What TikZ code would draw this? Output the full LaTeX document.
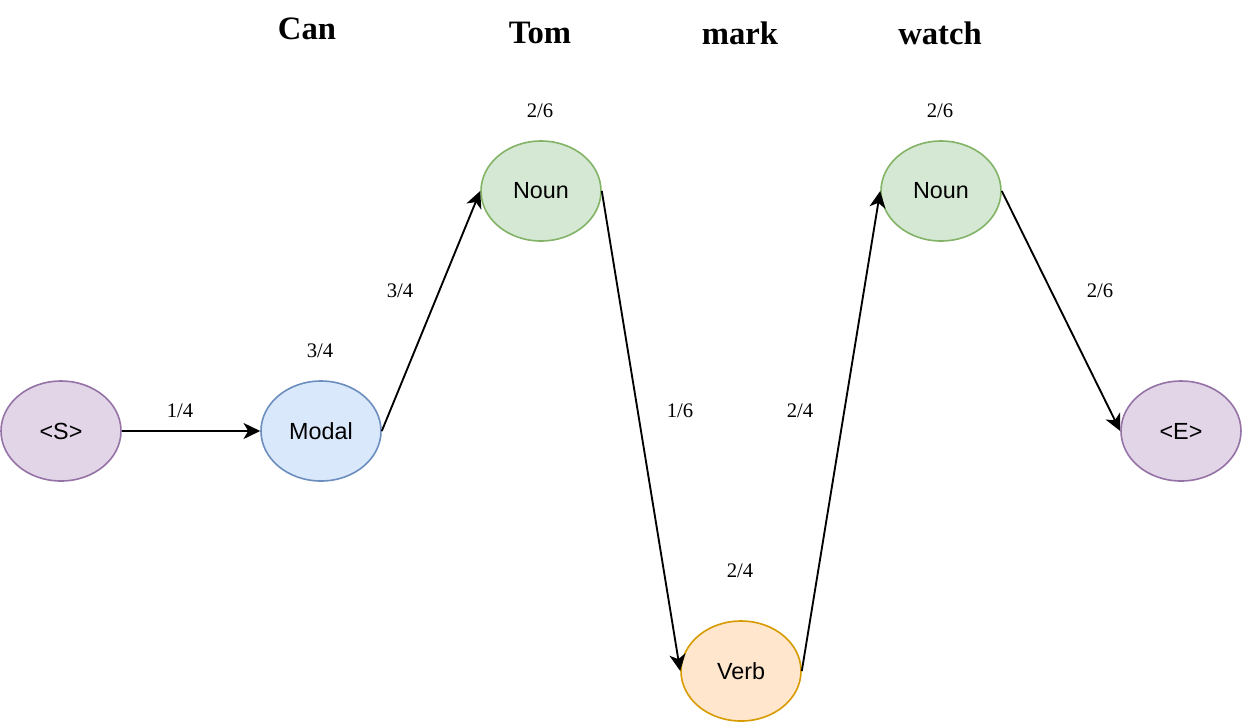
\documentclass[tikz,border=0pt]{standalone}
\usepackage{fontspec}
\setmainfont{Liberation Serif}
\newfontfamily\nodefont{Liberation Sans}
\usetikzlibrary{shapes.geometric,arrows.meta}
\definecolor{sfill}{HTML}{E1D5E7}\definecolor{sdraw}{HTML}{9673A6}
\definecolor{bfill}{HTML}{DAE8FC}\definecolor{bdraw}{HTML}{6C8EBF}
\definecolor{gfill}{HTML}{D5E8D4}\definecolor{gdraw}{HTML}{82B366}
\definecolor{ofill}{HTML}{FFE6CC}\definecolor{odraw}{HTML}{D79B00}
\tikzset{
  tagnode/.style={ellipse, minimum width=90pt, minimum height=75pt, inner sep=0pt, line width=1.2pt, font=\nodefont\fontsize{17.5}{20}\selectfont},
  purplenode/.style={tagnode, fill=sfill, draw=sdraw},
  bluenode/.style={tagnode, fill=bfill, draw=bdraw},
  greennode/.style={tagnode, fill=gfill, draw=gdraw},
  orangenode/.style={tagnode, fill=ofill, draw=odraw},
  problabel/.style={font=\fontsize{15.5}{18}\selectfont, inner sep=0pt},
  wordlabel/.style={font=\bfseries\fontsize{24.5}{28}\selectfont, inner sep=0pt},
  edge/.style={line width=1.4pt, -{Stealth[length=12.5pt, width=12pt, inset=3.5pt]}}
}
\begin{document}
\begin{tikzpicture}[x=0.75pt,y=-0.75pt]
\useasboundingbox (0,0) rectangle (1242,722);
\node[purplenode] (s) at (61,431) {<S>};
\node[bluenode] (modal) at (321,431) {Modal};
\node[greennode] (noun1) at (541,191) {Noun};
\node[orangenode] (verb) at (741,671) {Verb};
\node[greennode] (noun2) at (941,191) {Noun};
\node[purplenode] (e) at (1181,431) {<E>};

\draw[edge] (s.east) -- (modal.west);
\draw[edge] (modal.east) -- (noun1.west);
\draw[edge] (noun1.east) -- (verb.west);
\draw[edge] (verb.east) -- (noun2.west);
\draw[edge] (noun2.east) -- (e.west);

\node[wordlabel] (w1) at (307,29) {Can};
\node[wordlabel] (w2) at (540,33) {Tom};
\node[wordlabel] (w3) at (740,33) {mark};
\node[wordlabel] (w4) at (940,33) {watch};

\node[problabel] (p1) at (180,411) {1/4};
\node[problabel] (p2) at (320,351) {3/4};
\node[problabel] (p3) at (400,291) {3/4};
\node[problabel] (p4) at (540,111) {2/6};
\node[problabel] (p5) at (680,411) {1/6};
\node[problabel] (p6) at (800,411) {2/4};
\node[problabel] (p7) at (740,571) {2/4};
\node[problabel] (p8) at (940,111) {2/6};
\node[problabel] (p9) at (1100,291) {2/6};
\end{tikzpicture}
\end{document}
